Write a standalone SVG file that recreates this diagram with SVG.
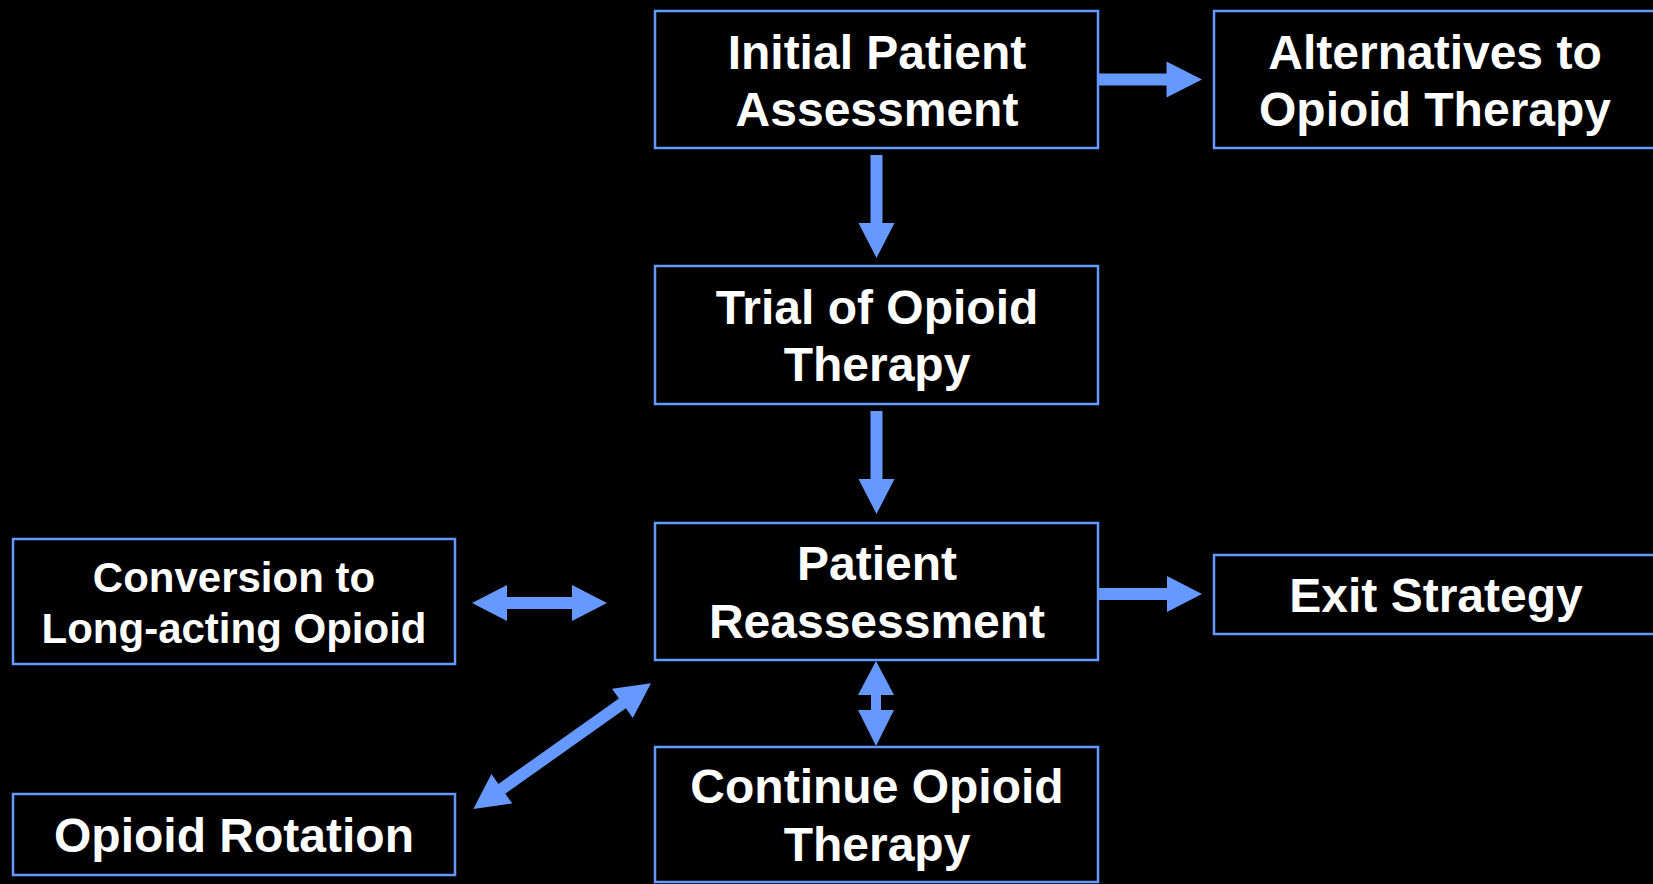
<svg xmlns="http://www.w3.org/2000/svg" width="1653" height="884" viewBox="0 0 1653 884">
<style>
.box{fill:#000;stroke:#6699FF;stroke-width:2.5}
.t{font-family:"Liberation Sans",Arial,sans-serif;font-weight:bold;fill:#fff;text-anchor:middle;font-size:48px}
.s{font-size:42px}
.arr{fill:#6699FF}
</style>
<rect width="1653" height="884" fill="#000"/>
<g id="connectors">
<polygon class="arr" points="870.5,155 882.5,155 882.5,223 894.5,223 876.5,258 858.5,223 870.5,223"/>
<polygon class="arr" points="870.5,411 882.5,411 882.5,479 894.5,479 876.5,514 858.5,479 870.5,479"/>
<polygon class="arr" points="1099,73.5 1166.5,73.5 1166.5,61.5 1202,79.5 1166.5,97.5 1166.5,85.5 1099,85.5"/>
<polygon class="arr" points="1098,588 1167,588 1167,576 1202,594 1167,612 1167,600 1098,600"/>
<polygon class="arr" points="472,603 507,585 507,597 572,597 572,585 607,603 572,621 572,609 507,609 507,621"/>
<polygon class="arr" points="876,661 894,695 881,695 881,710 894,710 876,746 858,710 871,710 871,695 858,695"/>
<polygon class="arr" transform="translate(473.3,809) rotate(-35.3)" points="0,0 35,-18 35,-6 182.7,-6 182.7,-18 217.7,0 182.7,18 182.7,6 35,6 35,18"/>
</g>
<g id="initial">
<rect class="box" x="655" y="11" width="443" height="137"/>
<text class="t" x="877" y="69">Initial Patient</text>
<text class="t" x="877" y="126">Assessment</text>
</g>
<g id="alternatives">
<rect class="box" x="1214" y="11" width="460" height="137"/>
<text class="t" x="1435" y="69">Alternatives to</text>
<text class="t" x="1435" y="126">Opioid Therapy</text>
</g>
<g id="trial">
<rect class="box" x="655" y="266" width="443" height="138"/>
<text class="t" x="877" y="324">Trial of Opioid</text>
<text class="t" x="877" y="381">Therapy</text>
</g>
<g id="reassessment">
<rect class="box" x="655" y="523" width="443" height="137"/>
<text class="t" x="877" y="580">Patient</text>
<text class="t" x="877" y="638">Reassessment</text>
</g>
<g id="exit">
<rect class="box" x="1214" y="555" width="460" height="79"/>
<text class="t" x="1436" y="612">Exit Strategy</text>
</g>
<g id="conversion">
<rect class="box" x="13" y="539" width="442" height="125"/>
<text class="t s" x="234" y="592">Conversion to</text>
<text class="t s" x="234" y="643">Long-acting Opioid</text>
</g>
<g id="rotation">
<rect class="box" x="13" y="794" width="442" height="81"/>
<text class="t" x="234" y="852">Opioid Rotation</text>
</g>
<g id="continue">
<rect class="box" x="655" y="747" width="443" height="135"/>
<text class="t" x="877" y="803">Continue Opioid</text>
<text class="t" x="877" y="861">Therapy</text>
</g>
</svg>
